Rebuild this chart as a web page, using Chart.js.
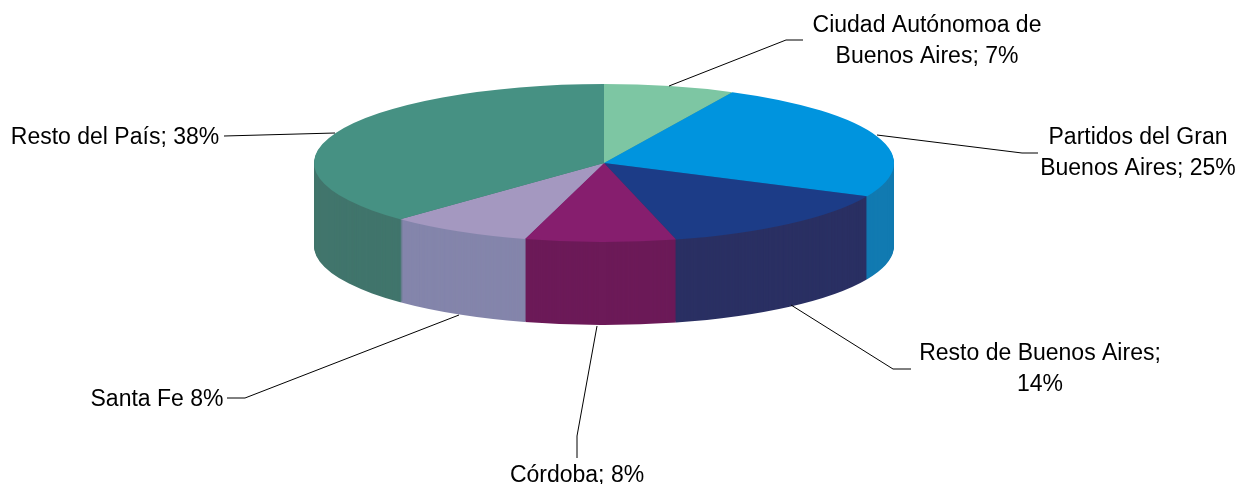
<!DOCTYPE html>
<html>
<head>
<meta charset="utf-8">
<title>Distribución por provincia</title>
<script src="https://cdn.jsdelivr.net/npm/chart.js@4"></script>
<style>
    html, body { margin: 0; padding: 0; background: #fff; }
    canvas { display: block; }
</style>
</head>
<body>
<canvas id="pie" width="1239" height="484"></canvas>
<script>
const categories = ['Ciudad Autónomoa de Buenos Aires', 'Partidos del Gran Buenos Aires', 'Resto de Buenos Aires', 'Córdoba', 'Santa Fe', 'Resto del País'];
// the printed labels round these
const values = [7.3, 24.6, 14.1, 8.4, 8.0, 37.6];
const topColors = ['#7dc6a3', '#0094de', '#1c3c87', '#861e6e', '#a498c0', '#469183'];
const wallColors = ['#65a082', '#117ab1', '#2a3063', '#6c1a58', '#8485ab', '#41756c'];
const labelLines = [
    ['Ciudad Autónomoa de', 'Buenos Aires; 7%'],
    ['Partidos del Gran', 'Buenos Aires; 25%'],
    ['Resto de Buenos Aires;', '14%'],
    ['Córdoba; 8%'],
    ['Santa Fe 8%'],
    ['Resto del País; 38%']
];

// where the flattened pie sits on the page
const pieBox = { x: 604, y: 163, rx: 290, ry: 79, depth: 83 };

// label anchor (centre x, first baseline) and leader line for each slice
const labelBoxes = [
    { x: 927, y: 32, leader: [[669, 86], [786, 40], [803, 40]] },
    { x: 1138, y: 144, leader: [[877, 135], [1022, 153], [1038, 153]] },
    { x: 1040, y: 360, leader: [[791, 305], [893, 369], [911, 369]] },
    { x: 577, y: 482, leader: [[597, 326], [577, 436], [577, 458]] },
    { x: 157, y: 406, leader: [[459, 315], [245, 398], [227, 398]] },
    { x: 115, y: 144, leader: [[335, 133], [224, 136]] }
];
const labelFont = '23px "Liberation Sans", Arial, sans-serif';
const lineHeight = 31;

const flatPie = {
    id: 'flatPie',
    beforeDatasetsDraw(chart) {
        const ctx = chart.ctx;
        const arcs = chart.getDatasetMeta(0).data;
        const first = arcs[0];
        const scaleX = pieBox.rx / first.outerRadius;
        const scaleY = pieBox.ry / first.outerRadius;

        const place = (offset) => {
            ctx.translate(pieBox.x, pieBox.y + offset);
            ctx.scale(scaleX, scaleY);
            ctx.translate(-first.x, -first.y);
        };

        // side wall: the same slices stacked from the bottom up
        for (let d = pieBox.depth; d > 0; d--) {
            arcs.forEach((arc, i) => {
                const original = arc.options;
                arc.options = Object.assign(Object.create(original), { backgroundColor: wallColors[i] });
                ctx.save();
                place(d);
                arc.draw(ctx);
                ctx.restore();
                arc.options = original;
            });
        }

        // top face
        arcs.forEach(arc => {
            ctx.save();
            place(0);
            arc.draw(ctx);
            ctx.restore();
        });
        return false;
    },
    afterDraw(chart) {
        const ctx = chart.ctx;
        ctx.save();
        ctx.strokeStyle = '#000';
        ctx.lineWidth = 1;
        ctx.fillStyle = '#000';
        ctx.font = labelFont;
        ctx.textAlign = 'center';
        ctx.textBaseline = 'alphabetic';
        labelBoxes.forEach((box, i) => {
            ctx.beginPath();
            box.leader.forEach((p, j) => (j ? ctx.lineTo(p[0], p[1]) : ctx.moveTo(p[0], p[1])));
            ctx.stroke();
            labelLines[i].forEach((line, j) => ctx.fillText(line, box.x, box.y + j * lineHeight));
        });
        ctx.restore();
    }
};

new Chart(document.getElementById('pie').getContext('2d'), {
    type: 'pie',
    data: {
        labels: categories,
        datasets: [{ data: values, backgroundColor: topColors, borderWidth: 0 }]
    },
    options: {
        responsive: false,
        animation: false,
        plugins: { legend: { display: false }, tooltip: { enabled: false } }
    },
    plugins: [flatPie]
});
</script>
</body>
</html>
